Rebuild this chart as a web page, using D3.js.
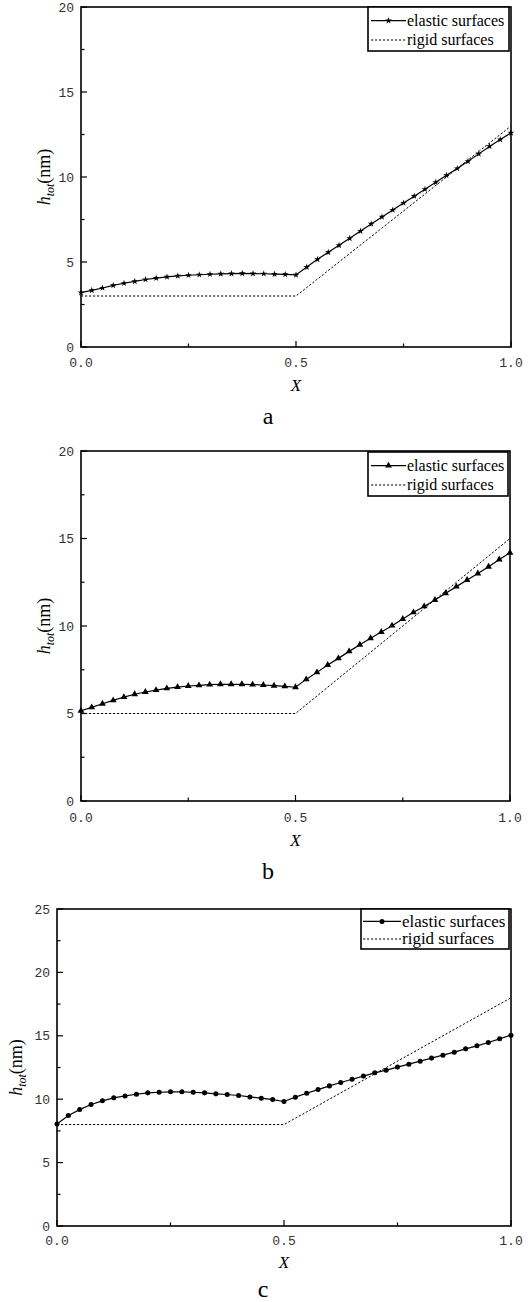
<!DOCTYPE html>
<html><head><meta charset="utf-8">
<script src="https://cdn.jsdelivr.net/npm/d3@7"></script>
<style>body{margin:0;background:#fff}svg{display:block}</style>
</head><body>
<svg id="chart" width="530" height="1302"></svg>
<script>
// ---------- DATA ----------
const xValues = [0,0.025,0.05,0.075,0.1,0.125,0.15,0.175,0.2,0.225,0.25,0.275,0.3,0.325,0.35,0.375,0.4,0.425,0.45,0.475,0.5,
  0.525,0.55,0.575,0.6,0.625,0.65,0.675,0.7,0.725,0.75,0.775,0.8,0.825,0.85,0.875,0.9,0.925,0.95,0.975,1.0];
const elasticA = [3.2,3.33,3.47,3.62,3.75,3.86,3.97,4.05,4.12,4.18,4.22,4.25,4.28,4.3,4.32,4.33,4.32,4.31,4.29,4.27,4.24,
  4.7,5.16,5.57,5.98,6.39,6.82,7.24,7.65,8.06,8.47,8.87,9.28,9.69,10.1,10.5,10.92,11.36,11.8,12.2,12.6];
const elasticB = [5.16,5.35,5.56,5.75,5.94,6.10,6.23,6.34,6.44,6.51,6.57,6.61,6.65,6.67,6.67,6.67,6.65,6.63,6.59,6.55,6.5,
  6.95,7.35,7.77,8.15,8.55,8.93,9.3,9.66,10.02,10.4,10.78,11.12,11.49,11.87,12.25,12.63,13.0,13.39,13.8,14.19];
const elasticC = [8.05,8.71,9.18,9.58,9.87,10.11,10.26,10.39,10.5,10.55,10.58,10.58,10.55,10.5,10.42,10.37,10.29,10.18,10.08,9.97,9.82,
  10.16,10.47,10.76,11.05,11.32,11.57,11.82,12.08,12.29,12.53,12.76,13.0,13.24,13.47,13.71,13.97,14.21,14.47,14.76,15.05];
const rigidX = [0, 0.5, 1.0];
const rigidA = [3, 3, 13];
const rigidB = [5, 5, 15];
const rigidC = [8, 8, 18];
const xTickLabels = ["0.0", "0.5", "1.0"];
const xMajorTicks = [0, 0.5, 1.0];
const xMinorTicks = [0.25, 0.75];
const yTicksAB = [0, 5, 10, 15, 20];
const yTicksC = [0, 5, 10, 15, 20, 25];
const legendLabels = ["elastic surfaces", "rigid surfaces"];
const panelLetters = ["a", "b", "c"];
const xAxisTitle = "X";

// ---------- LAYOUT ----------
const panels = [
  {elastic: elasticA, rigid: rigidA, yMax: 20, yTicks: yTicksAB, symbol: d3.symbolStar, symSize: 14,
   left: 81, right: 511, top: 7, bottom: 347, tickLblY: 362, xTitleY: 385, letterX: 268, letterY: 416, yTitleX: 50,
   legend: {x: 368, y: 7, w: 141, h: 44, fs: 16, lineX0: 371, lineX1: 406}},
  {elastic: elasticB, rigid: rigidB, yMax: 20, yTicks: yTicksAB, symbol: d3.symbolTriangle, symSize: 20,
   left: 81, right: 510, top: 451, bottom: 801, tickLblY: 817, xTitleY: 840, letterX: 268, letterY: 871, yTitleX: 50,
   legend: {x: 368, y: 452, w: 140, h: 44, fs: 16, lineX0: 371, lineX1: 406}},
  {elastic: elasticC, rigid: rigidC, yMax: 25, yTicks: yTicksC, symbol: d3.symbolCircle, symSize: 20,
   left: 57, right: 511, top: 909, bottom: 1226, tickLblY: 1240, xTitleY: 1262, letterX: 263, letterY: 1289, yTitleX: 22,
   legend: {x: 361, y: 909, w: 148, h: 40, fs: 17, lineX0: 363, lineX1: 401}}
];

const svg = d3.select("#chart");
const serif = "'Liberation Serif','Times New Roman',serif";
const mono = "'Liberation Mono','Courier New',monospace";

panels.forEach((p, i) => {
  const g = svg.append("g");
  const x = d3.scaleLinear().domain([0, 1]).range([p.left, p.right]);
  const y = d3.scaleLinear().domain([0, p.yMax]).range([p.bottom, p.top]);

  const yMinor = d3.range(0, p.yMax, 5).map(v => v + 2.5);

  g.selectAll(".ymaj").data(p.yTicks).join("line")
    .attr("x1", p.left).attr("x2", p.left + 6).attr("y1", d => y(d)).attr("y2", d => y(d))
    .attr("stroke", "#000").attr("stroke-width", 1.2);
  g.selectAll(".ymin").data(yMinor).join("line")
    .attr("x1", p.left).attr("x2", p.left + 3.5).attr("y1", d => y(d)).attr("y2", d => y(d))
    .attr("stroke", "#000").attr("stroke-width", 1.2);
  g.selectAll(".xmaj").data(xMajorTicks).join("line")
    .attr("x1", d => x(d)).attr("x2", d => x(d)).attr("y1", p.bottom).attr("y2", p.bottom - 6)
    .attr("stroke", "#000").attr("stroke-width", 1.2);
  g.selectAll(".xmin").data(xMinorTicks).join("line")
    .attr("x1", d => x(d)).attr("x2", d => x(d)).attr("y1", p.bottom).attr("y2", p.bottom - 3.5)
    .attr("stroke", "#000").attr("stroke-width", 1.2);

  g.selectAll(".ylbl").data(p.yTicks).join("text")
    .attr("x", p.left - 7).attr("y", d => y(d)).attr("dy", "0.35em")
    .attr("text-anchor", "end").attr("font-family", mono).attr("font-size", 13).attr("fill", "#333")
    .text(d => d);
  g.selectAll(".xlbl").data(xMajorTicks).join("text")
    .attr("x", d => x(d)).attr("y", p.tickLblY).attr("dy", "0.35em")
    .attr("text-anchor", "middle").attr("font-family", mono).attr("font-size", 13).attr("fill", "#333")
    .text((d, k) => xTickLabels[k]);

  const rigidPts = rigidX.map((v, k) => [v, p.rigid[k]]);
  g.append("path").datum(rigidPts)
    .attr("d", d3.line().x(d => x(d[0])).y(d => y(d[1])))
    .attr("fill", "none").attr("stroke", "#000").attr("stroke-width", 1).attr("stroke-dasharray", "2.2,1.8");

  const elPts = xValues.map((v, k) => [v, p.elastic[k]]);
  g.append("path").datum(elPts)
    .attr("d", d3.line().x(d => x(d[0])).y(d => y(d[1])))
    .attr("fill", "none").attr("stroke", "#000").attr("stroke-width", 1.2);
  const sym = d3.symbol().type(p.symbol).size(p.symSize);
  g.selectAll(".mk").data(elPts).join("path")
    .attr("transform", d => `translate(${x(d[0])},${y(d[1])})`)
    .attr("d", sym).attr("fill", "#000");

  g.append("rect").attr("x", p.left).attr("y", p.top)
    .attr("width", p.right - p.left).attr("height", p.bottom - p.top)
    .attr("fill", "none").attr("stroke", "#000").attr("stroke-width", 1.6);

  const L = p.legend;
  const lg = g.append("g");
  lg.append("rect").attr("x", L.x).attr("y", L.y).attr("width", L.w).attr("height", L.h)
    .attr("fill", "#fff").attr("stroke", "#000").attr("stroke-width", 1.6);
  const row1 = L.y + L.h * 0.31, row2 = L.y + L.h * 0.75;
  lg.append("line").attr("x1", L.lineX0).attr("x2", L.lineX1).attr("y1", row1).attr("y2", row1)
    .attr("stroke", "#000").attr("stroke-width", 1.2);
  lg.append("path").attr("transform", `translate(${(L.lineX0 + L.lineX1) / 2},${row1})`)
    .attr("d", sym).attr("fill", "#000");
  lg.append("line").attr("x1", L.lineX0).attr("x2", L.lineX1).attr("y1", row2).attr("y2", row2)
    .attr("stroke", "#000").attr("stroke-width", 1).attr("stroke-dasharray", "2.2,1.8");
  [row1, row2].forEach((ry, k) => {
    lg.append("text").attr("x", L.lineX1 + 1).attr("y", ry).attr("dy", "0.32em")
      .attr("font-family", serif).attr("font-size", L.fs).attr("fill", "#000").text(legendLabels[k]);
  });

  g.append("text").attr("x", (p.left + p.right) / 2).attr("y", p.xTitleY).attr("dy", "0.35em")
    .attr("text-anchor", "middle").attr("font-family", serif).attr("font-style", "italic")
    .attr("font-size", 17).text(xAxisTitle);
  const yt = g.append("text")
    .attr("transform", `translate(${p.yTitleX},${(p.top + p.bottom) / 2}) rotate(-90)`)
    .attr("text-anchor", "middle").attr("font-family", serif).attr("font-size", 18);
  yt.append("tspan").attr("font-style", "italic").text("h");
  yt.append("tspan").attr("font-style", "italic").attr("font-size", 12).attr("dy", 4).text("tot");
  yt.append("tspan").attr("dy", -4).text("(nm)");

  g.append("text").attr("x", p.letterX).attr("y", p.letterY).attr("dy", "0.32em")
    .attr("text-anchor", "middle").attr("font-family", serif).attr("font-size", 24).text(panelLetters[i]);
});
</script>
</body></html>
